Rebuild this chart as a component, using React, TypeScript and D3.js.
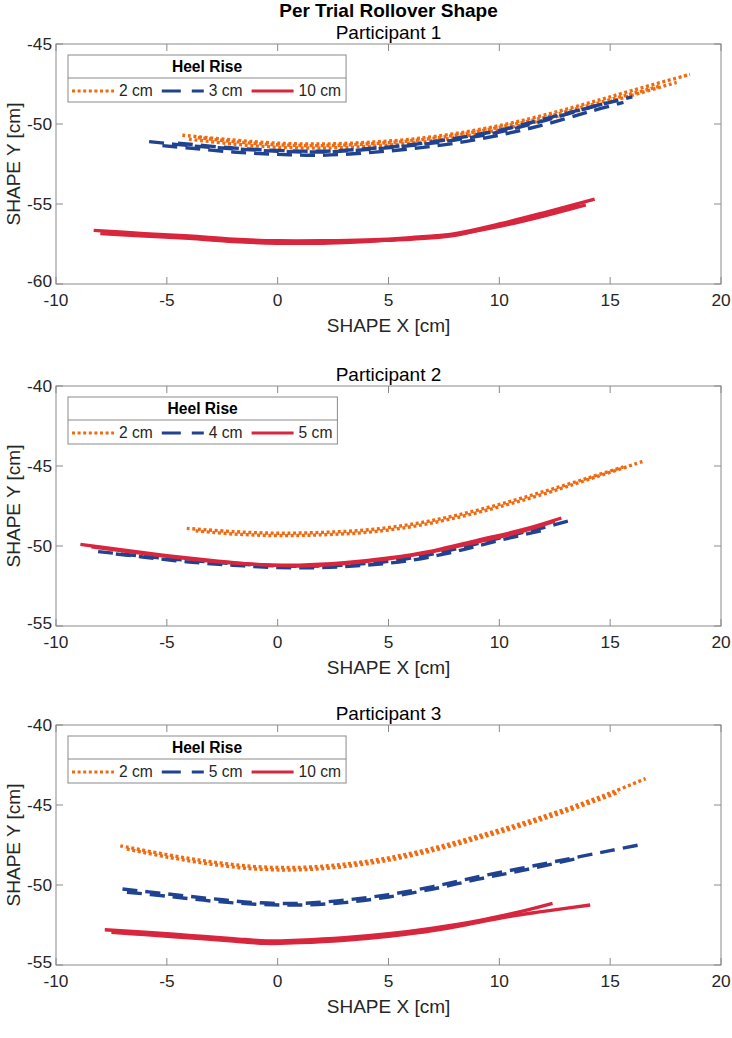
import { useEffect, useRef } from "react";
import * as d3 from "d3";

type Pt = [number, number];

// Rollover shape traces, one array of trials per heel-rise condition (cm)
const p1Rise2: Pt[][] = [
  [[-4.3, -50.7], [-2, -51.0], [0, -51.2], [2, -51.25], [4, -51.15], [6, -50.95], [8, -50.6], [10, -50.1], [12, -49.45], [14, -48.7], [16, -47.9], [18.6, -46.9]],
  [[-4.0, -50.95], [-2, -51.25], [0, -51.45], [2, -51.5], [4, -51.4], [6, -51.2], [8, -50.85], [10, -50.35], [12, -49.75], [14, -49.0], [16, -48.2], [18.0, -47.4]],
  [[-3.6, -50.85], [-2, -51.1], [0, -51.3], [2, -51.35], [4, -51.25], [6, -51.05], [8, -50.7], [10, -50.2], [12, -49.6], [14, -48.85], [17.2, -47.65]],
];
const p1Rise3: Pt[][] = [
  [[-5.8, -51.1], [-4, -51.35], [-2, -51.55], [0, -51.7], [2, -51.75], [4, -51.6], [6, -51.35], [8, -51.0], [10, -50.5], [12, -49.8], [14, -49.0], [16, -48.3]],
  [[-5.2, -51.35], [-4, -51.5], [-2, -51.75], [0, -51.9], [2, -51.95], [4, -51.8], [6, -51.55], [8, -51.2], [10, -50.7], [12, -50.05], [14, -49.25], [15.6, -48.65]],
  [[-4.5, -51.2], [-2, -51.5], [0, -51.65], [2, -51.7], [4, -51.55], [6, -51.3], [8, -50.9], [10, -50.4], [12, -49.7], [14.8, -48.7]],
];
const p1Rise10: Pt[][] = [
  [[-8.3, -56.65], [-6, -56.85], [-4, -57.0], [-2, -57.2], [0, -57.3], [2, -57.3], [4, -57.25], [6, -57.1], [8, -56.85], [10, -56.25], [12, -55.55], [14.3, -54.7]],
  [[-8.0, -56.85], [-6, -57.0], [-4, -57.15], [-2, -57.35], [0, -57.45], [2, -57.45], [4, -57.35], [6, -57.15], [8, -56.9], [10, -56.4], [12, -55.75], [13.9, -55.05]],
  [[-7.6, -56.75], [-6, -56.9], [-4, -57.1], [-2, -57.3], [0, -57.4], [2, -57.4], [4, -57.3], [6, -57.2], [8, -56.95], [10, -56.3], [12, -55.65], [13.6, -55.05]],
];

const p2Rise2: Pt[][] = [
  [[-4.1, -48.9], [-2, -49.1], [0, -49.2], [2, -49.15], [4, -49.0], [6, -48.65], [8, -48.1], [10, -47.4], [12, -46.6], [14, -45.75], [15.6, -45.05]],
  [[-3.7, -49.05], [-2, -49.25], [0, -49.35], [2, -49.3], [4, -49.15], [6, -48.8], [8, -48.25], [10, -47.55], [12, -46.75], [14, -45.85], [16.5, -44.7]],
];
const p2Rise4: Pt[][] = [
  [[-8.1, -50.35], [-6, -50.65], [-4, -50.9], [-2, -51.1], [0, -51.25], [2, -51.25], [4, -51.1], [6, -50.75], [8, -50.2], [10, -49.5], [12, -48.85], [13.35, -48.35]],
  [[-7.3, -50.5], [-6, -50.7], [-4, -51.0], [-2, -51.2], [0, -51.35], [2, -51.35], [4, -51.2], [6, -50.9], [8, -50.35], [10, -49.65], [12.2, -48.95]],
];
const p2Rise5: Pt[][] = [
  [[-8.9, -49.9], [-7, -50.25], [-5, -50.6], [-3, -50.9], [-1, -51.15], [1, -51.2], [3, -51.05], [5, -50.75], [7, -50.3], [9, -49.65], [11, -49.0], [12.8, -48.25]],
  [[-8.4, -50.05], [-7, -50.3], [-5, -50.65], [-3, -50.95], [-1, -51.15], [1, -51.25], [3, -51.1], [5, -50.8], [7, -50.35], [9, -49.75], [11, -49.1], [12.5, -48.45]],
];

const p3Rise2: Pt[][] = [
  [[-7.1, -47.55], [-5, -48.1], [-3, -48.55], [-1, -48.85], [1, -48.9], [3, -48.7], [5, -48.3], [7, -47.7], [9, -46.95], [11, -46.15], [13, -45.25], [15, -44.25], [16.6, -43.35]],
  [[-6.8, -47.75], [-5, -48.25], [-3, -48.7], [-1, -49.0], [1, -49.05], [3, -48.85], [5, -48.45], [7, -47.85], [9, -47.1], [11, -46.3], [13, -45.4], [15.4, -44.2]],
];
const p3Rise5: Pt[][] = [
  [[-7.0, -50.25], [-5, -50.55], [-3, -50.85], [-1, -51.1], [1, -51.15], [3, -50.95], [5, -50.6], [7, -50.1], [9, -49.5], [11, -48.95], [13, -48.4], [15, -47.85], [16.3, -47.5]],
  [[-6.8, -50.45], [-5, -50.7], [-3, -51.0], [-1, -51.2], [1, -51.25], [3, -51.1], [5, -50.75], [7, -50.25], [9, -49.65], [11, -49.1], [13.5, -48.35]],
];
const p3Rise10: Pt[][] = [
  [[-7.8, -52.8], [-6, -52.95], [-4, -53.15], [-2, -53.35], [-0.5, -53.5], [1, -53.45], [3, -53.3], [5, -53.05], [7, -52.7], [9, -52.25], [11, -51.65], [12.4, -51.15]],
  [[-7.5, -52.95], [-6, -53.1], [-4, -53.3], [-2, -53.5], [-0.5, -53.65], [1, -53.6], [3, -53.45], [5, -53.2], [7, -52.85], [9, -52.35], [10.5, -51.95], [12, -51.65], [14.1, -51.25]],
];

const xTicks = [-10, -5, 0, 5, 10, 15, 20];
const yTicksP1 = [-60, -55, -50, -45];
const yTicksP23 = [-55, -50, -45, -40];

const legendP1 = ["2 cm", "3 cm", "10 cm"];
const legendP2 = ["2 cm", "4 cm", "5 cm"];
const legendP3 = ["2 cm", "5 cm", "10 cm"];

const styles = [
  { color: "#F06A10", dash: "3,2.6" },
  { color: "#1F4291", dash: "15,8" },
  { color: "#D7263D", dash: null as string | null },
];

const panels = [
  { title: "Participant 1", yDomain: [-60, -45], yTicks: yTicksP1, series: [p1Rise2, p1Rise3, p1Rise10], legend: legendP1 },
  { title: "Participant 2", yDomain: [-55, -40], yTicks: yTicksP23, series: [p2Rise2, p2Rise4, p2Rise5], legend: legendP2 },
  { title: "Participant 3", yDomain: [-55, -40], yTicks: yTicksP23, series: [p3Rise2, p3Rise5, p3Rise10], legend: legendP3 },
];

const W = 732;
const H = 1038;
const FONT = "'Liberation Sans', Arial, Helvetica, sans-serif";
const AXIS_GRAY = "#8a8a8a";
const TEXT = "#262626";

export default function App() {
  const ref = useRef<SVGSVGElement>(null);

  useEffect(() => {
    const svg = d3.select(ref.current);
    svg.selectAll("*").remove();

    const left = 56;
    const right = 721;
    const panelH = 240;
    const tops = [44, 386, 725];

    const x = d3.scaleLinear().domain([-10, 20]).range([left, right]);

    svg
      .append("text")
      .attr("x", (left + right) / 2)
      .attr("y", 10)
      .attr("dy", "0.35em")
      .attr("text-anchor", "middle")
      .attr("font-family", FONT)
      .attr("font-weight", "bold")
      .attr("font-size", 19)
      .attr("fill", "#000")
      .text("Per Trial Rollover Shape");

    panels.forEach((p, i) => {
      const top = tops[i];
      const bottom = top + panelH;
      const y = d3.scaleLinear().domain(p.yDomain).range([bottom, top]);
      const g = svg.append("g");

      const clipId = `clip-${i}`;
      g.append("clipPath")
        .attr("id", clipId)
        .append("rect")
        .attr("x", left)
        .attr("y", top)
        .attr("width", right - left)
        .attr("height", panelH);

      // traces
      const line = d3
        .line<Pt>()
        .x((d) => x(d[0]))
        .y((d) => y(d[1]))
        .curve(d3.curveCatmullRom.alpha(0.5));

      const dataG = g.append("g").attr("clip-path", `url(#${clipId})`);
      p.series.forEach((trials, s) => {
        trials.forEach((t) => {
          dataG
            .append("path")
            .attr("d", line(t))
            .attr("fill", "none")
            .attr("stroke", styles[s].color)
            .attr("stroke-width", 3.4)
            .attr("stroke-dasharray", styles[s].dash)
            .attr("stroke-linecap", "butt");
        });
      });

      // axes box and inward ticks
      g.append("rect")
        .attr("x", left)
        .attr("y", top)
        .attr("width", right - left)
        .attr("height", panelH)
        .attr("fill", "none")
        .attr("stroke", AXIS_GRAY)
        .attr("stroke-width", 1);

      const tickLen = 7;
      xTicks.forEach((v) => {
        const px = x(v);
        g.append("line").attr("x1", px).attr("x2", px).attr("y1", bottom).attr("y2", bottom - tickLen).attr("stroke", AXIS_GRAY);
        g.append("line").attr("x1", px).attr("x2", px).attr("y1", top).attr("y2", top + tickLen).attr("stroke", AXIS_GRAY);
        g.append("text")
          .attr("x", px)
          .attr("y", bottom + 16)
          .attr("dy", "0.35em")
          .attr("text-anchor", "middle")
          .attr("font-family", FONT)
          .attr("font-size", 17.3)
          .attr("fill", TEXT)
          .text(String(v));
      });
      p.yTicks.forEach((v) => {
        const py = y(v);
        g.append("line").attr("x1", left).attr("x2", left + tickLen).attr("y1", py).attr("y2", py).attr("stroke", AXIS_GRAY);
        g.append("line").attr("x1", right).attr("x2", right - tickLen).attr("y1", py).attr("y2", py).attr("stroke", AXIS_GRAY);
        g.append("text")
          .attr("x", left - 4)
          .attr("y", v === p.yDomain[0] ? py - 3 : py)
          .attr("dy", "0.35em")
          .attr("text-anchor", "end")
          .attr("font-family", FONT)
          .attr("font-size", 17.3)
          .attr("fill", TEXT)
          .text(String(v));
      });

      // titles and axis labels
      g.append("text")
        .attr("x", (left + right) / 2)
        .attr("y", top - 12)
        .attr("dy", "0.35em")
        .attr("text-anchor", "middle")
        .attr("font-family", FONT)
        .attr("font-size", 19)
        .attr("fill", "#000")
        .text(p.title);
      g.append("text")
        .attr("x", (left + right) / 2)
        .attr("y", bottom + 41)
        .attr("dy", "0.35em")
        .attr("text-anchor", "middle")
        .attr("font-family", FONT)
        .attr("font-size", 19)
        .attr("fill", TEXT)
        .text("SHAPE X [cm]");
      g.append("text")
        .attr("transform", `translate(13,${(top + bottom) / 2}) rotate(-90)`)
        .attr("dy", "0.35em")
        .attr("text-anchor", "middle")
        .attr("font-family", FONT)
        .attr("font-size", 19)
        .attr("fill", TEXT)
        .text("SHAPE Y [cm]");

      // legend
      const lx = 68;
      const ly = top + 11;
      const lh = 47;
      const legG = g.append("g");
      const box = legG
        .append("rect")
        .attr("x", lx)
        .attr("y", ly)
        .attr("height", lh)
        .attr("fill", "#fff")
        .attr("stroke", AXIS_GRAY);
      const sep = legG.append("line").attr("x1", lx).attr("y1", ly + 23).attr("y2", ly + 23).attr("stroke", AXIS_GRAY);

      let cx = lx + 4;
      const rowY = ly + 36;
      p.legend.forEach((label, s) => {
        legG
          .append("line")
          .attr("x1", cx)
          .attr("x2", cx + 42)
          .attr("y1", rowY)
          .attr("y2", rowY)
          .attr("stroke", styles[s].color)
          .attr("stroke-width", 3.2)
          .attr("stroke-dasharray", s === 1 ? "19,11" : styles[s].dash);
        const t = legG
          .append("text")
          .attr("x", cx + 47)
          .attr("y", rowY)
          .attr("dy", "0.35em")
          .attr("font-family", FONT)
          .attr("font-size", 15.6)
          .attr("fill", TEXT)
          .text(label);
        const w = (t.node() as SVGTextElement).getComputedTextLength();
        cx = cx + 47 + w + 9;
      });
      const lw = cx - 9 + 5 - lx;
      box.attr("width", lw);
      sep.attr("x2", lx + lw);
      legG
        .append("text")
        .attr("x", lx + lw / 2)
        .attr("y", ly + 12)
        .attr("dy", "0.35em")
        .attr("text-anchor", "middle")
        .attr("font-family", FONT)
        .attr("font-weight", "bold")
        .attr("font-size", 15.6)
        .attr("fill", "#000")
        .text("Heel Rise");
    });
  }, []);

  return (
    <svg
      ref={ref}
      width={W}
      height={H}
      style={{ position: "absolute", left: 0, top: 0, background: "#fff" }}
    />
  );
}
